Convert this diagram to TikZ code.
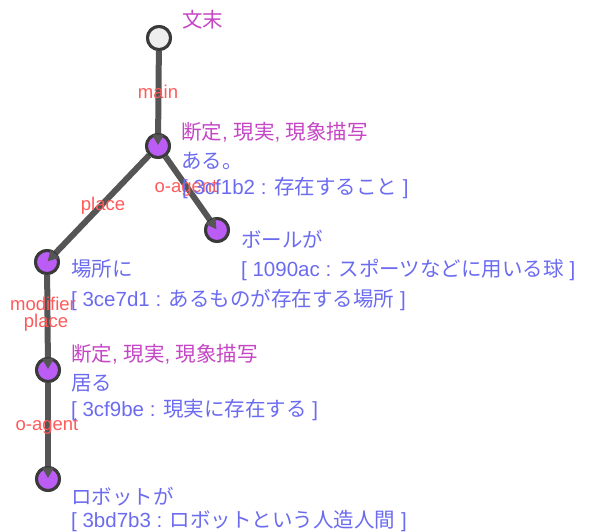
\documentclass[tikz,border=0pt]{standalone}
\usepackage{fontspec}
\usetikzlibrary{calc}
\setmainfont{Noto Sans CJK JP}
\newfontfamily\latfont{Liberation Sans}
\newcommand\lat[1]{{\latfont #1}}
\definecolor{edgegray}{HTML}{555555}
\definecolor{ringgray}{HTML}{3A3A3A}
\definecolor{nodepurple}{HTML}{BB5DF5}
\definecolor{rootfill}{HTML}{EEEEEE}
\definecolor{lblred}{HTML}{FF5A5A}
\definecolor{attrmag}{HTML}{C545C5}
\definecolor{wordblue}{HTML}{6B6BF0}
\begin{document}
\begin{tikzpicture}[x=1pt,y=-1pt,
  wnode/.style={circle,draw=ringgray,line width=3pt,fill=nodepurple,minimum size=23pt,inner sep=0pt},
  rootnode/.style={wnode,fill=rootfill},
  edge/.style={draw=edgegray,line width=6pt},
  rel/.style={text=lblred,font=\latfont\fontsize{18.5}{20}\selectfont,inner sep=0pt,anchor=base},
  attr/.style={text=attrmag,font=\fontsize{20.5}{22}\selectfont,anchor=base west,inner sep=0pt},
  word/.style={text=wordblue,font=\fontsize{20.5}{22}\selectfont,anchor=base west,inner sep=0pt},
  gloss/.style={text=wordblue,font=\fontsize{20.5}{22}\selectfont,anchor=base west,inner sep=0pt}]
\useasboundingbox (0,0) rectangle (598,531);
% circles
\node[rootnode] (r) at (159,38) {};
\node[wnode] (a) at (158,146) {};
\node[wnode] (b) at (217,230) {};
\node[wnode] (c) at (47,262) {};
\node[wnode] (d) at (48,370) {};
\node[wnode] (e) at (48,479) {};
% edges (behind circles)
\begin{scope}[on background layer/.try]
\end{scope}
\draw[edge] (r) -- (a.center);
\draw[edge] (a) -- (b.center);
\draw[edge] (a) -- (c.center);
\draw[edge] (c) -- (d.center);
\draw[edge] (d) -- (e.center);
% redraw circles over edges
\node[rootnode] at (r) {};
\foreach \n in {a,b,c,d,e} {\node[wnode] at (\n) {};}
% incoming wedges
\foreach \p/\q in {r/a,a/b,a/c,c/d,d/e} {
  \coordinate (bs) at ($(\q.center)!11.5pt!(\p.center)$);
  \fill[edgegray] ($(\q.center)!1pt!(\p.center)$) -- ($(bs)!6pt!90:(\q.center)$) -- ($(bs)!6pt!-90:(\q.center)$) -- cycle;
}
% relation labels
\node[rel] (l1) at (158,98) {main};
\node[rel] (l2) at (103,210) {place};
\node[rel] (l3) at (186,192) {o-agent};
\node[rel] (l4) at (43,310) {modifier};
\node[rel] (l5) at (46,327) {place};
\node[rel] (l6) at (47,430) {o-agent};
% texts
\node[attr] (t0) at (182,27) {文末};
\node[attr] (t1) at (181,139) {断定\lat{, }現実\lat{, }現象描写};
\node[word] (t2) at (181,168) {ある。};
\node[gloss] (t3) at (182,194) {\lat{[ 3cf1b2 : }存在すること\lat{ ]}};
\node[word] (t4) at (241,247) {ボールが};
\node[gloss] (t5) at (241,276) {\lat{[ 1090ac : }スポーツなどに用いる球\lat{ ]}};
\node[word] (t6) at (71,276) {場所に};
\node[gloss] (t7) at (71,306) {\lat{[ 3ce7d1 : }あるものが存在する場所\lat{ ]}};
\node[attr] (t8) at (71,361) {断定\lat{, }現実\lat{, }現象描写};
\node[word] (t9) at (71,390) {居る};
\node[gloss] (t10) at (71,416) {\lat{[ 3cf9be : }現実に存在する\lat{ ]}};
\node[word] (t11) at (71,504) {ロボットが};
\node[gloss] (t12) at (71,527) {\lat{[ 3bd7b3 : }ロボットという人造人間\lat{ ]}};
\end{tikzpicture}
\end{document}
